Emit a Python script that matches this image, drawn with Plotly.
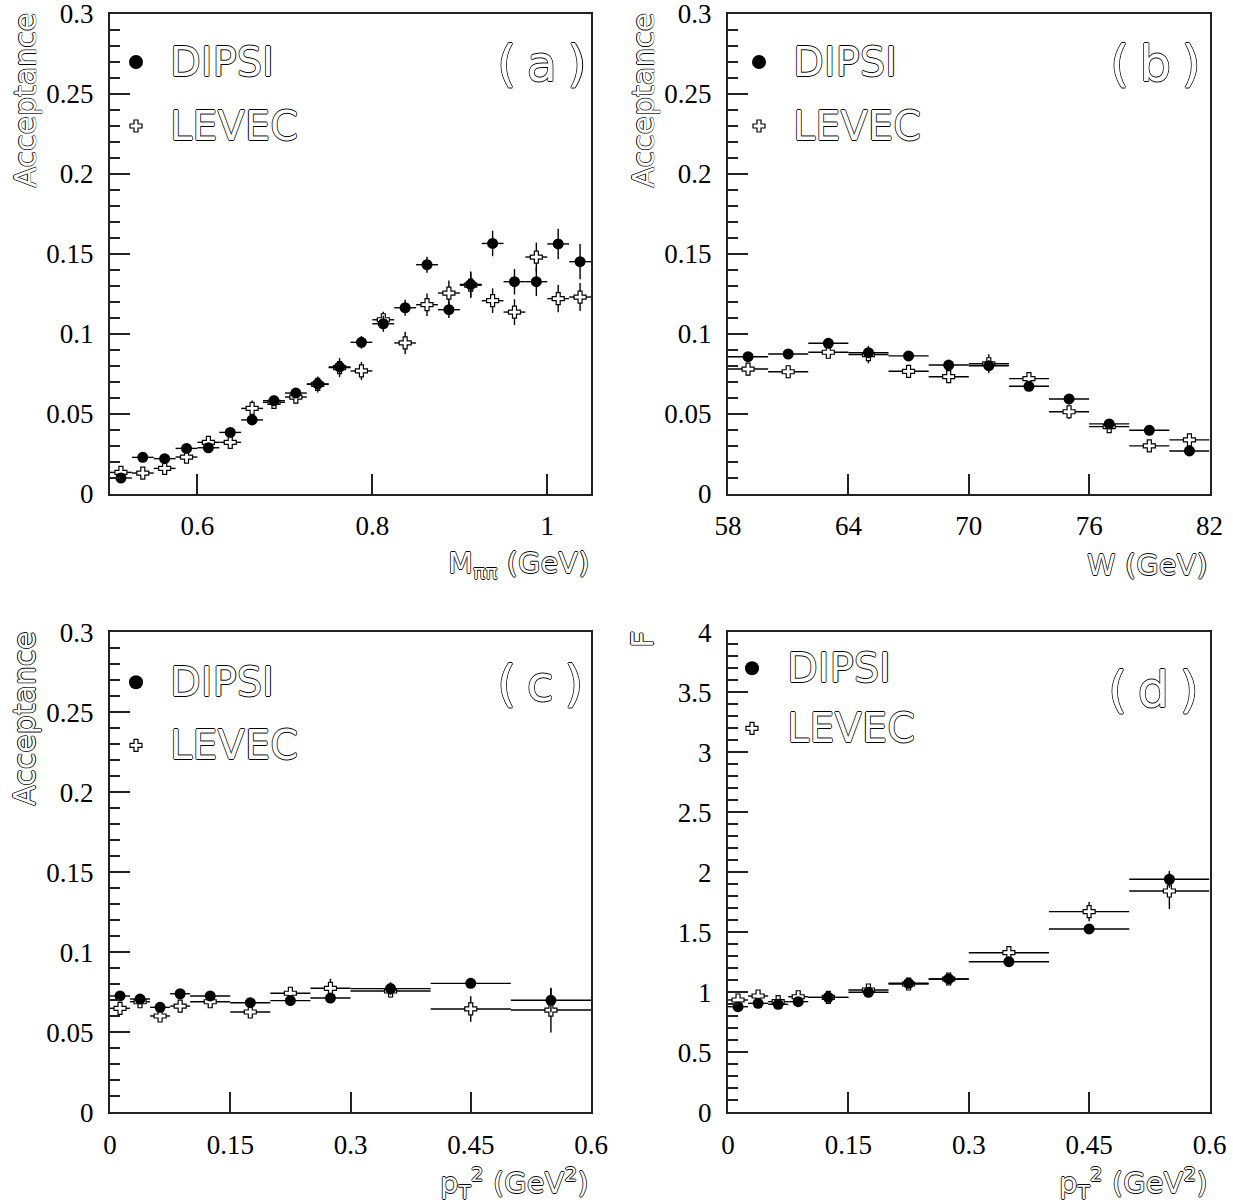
import plotly.graph_objects as go

# ---------------- data ----------------
m_centers = [0.5125, 0.5375, 0.5625, 0.5875, 0.6125, 0.6375, 0.6625, 0.6875, 0.7125, 0.7375, 0.7625,
             0.7875, 0.8125, 0.8375, 0.8625, 0.8875, 0.9125, 0.9375, 0.9625, 0.9875, 1.0125, 1.0375]
m_halfwidth = [0.0125] * 22
dipsi_a = [0.0100, 0.0229, 0.0221, 0.0285, 0.0289, 0.0385, 0.0463, 0.0583, 0.0631, 0.0688, 0.0794,
           0.0948, 0.1064, 0.1164, 0.1433, 0.1152, 0.1310, 0.1566, 0.1327, 0.1327, 0.1563, 0.1452]
dipsi_a_err = [0.001, 0.0015, 0.0015, 0.002, 0.002, 0.002, 0.0025, 0.003, 0.003, 0.004, 0.004,
               0.004, 0.005, 0.005, 0.005, 0.0052, 0.008, 0.008, 0.008, 0.009, 0.0095, 0.011]
levec_a = [0.0135, 0.0131, 0.0160, 0.0231, 0.0323, 0.0323, 0.0535, 0.0573, 0.0606, 0.0685, 0.0790,
           0.0769, 0.1089, 0.0944, 0.1183, 0.1256, 0.1305, 0.1208, 0.1137, 0.1481, 0.1221, 0.1231]
levec_a_err = [0.0015, 0.003, 0.0035, 0.003, 0.004, 0.004, 0.005, 0.004, 0.004, 0.005, 0.006,
               0.0056, 0.005, 0.007, 0.007, 0.0078, 0.008, 0.0077, 0.008, 0.009, 0.0085, 0.0088]

w_centers = [59, 61, 63, 65, 67, 69, 71, 73, 75, 77, 79, 81]
w_halfwidth = [1] * 12
dipsi_b = [0.0858, 0.0875, 0.0942, 0.0883, 0.0863, 0.0806, 0.0802, 0.0673, 0.0594, 0.0438, 0.0398, 0.0269]
dipsi_b_err = [0.002, 0.002, 0.002, 0.002, 0.002, 0.002, 0.002, 0.002, 0.002, 0.002, 0.002, 0.002]
levec_b = [0.0781, 0.0764, 0.0886, 0.0871, 0.0767, 0.0733, 0.0814, 0.0721, 0.0514, 0.0421, 0.0301, 0.0338]
levec_b_err = [0.004, 0.004, 0.004, 0.0055, 0.004, 0.004, 0.006, 0.004, 0.0045, 0.004, 0.003, 0.003]

pt_centers = [0.0125, 0.0375, 0.0625, 0.0875, 0.125, 0.175, 0.225, 0.275, 0.35, 0.45, 0.55]
pt_halfwidth = [0.0125, 0.0125, 0.0125, 0.0125, 0.025, 0.025, 0.025, 0.025, 0.05, 0.05, 0.05]
dipsi_c = [0.0727, 0.0708, 0.0656, 0.0741, 0.0727, 0.0685, 0.0698, 0.0714, 0.0773, 0.0806, 0.0700]
dipsi_c_err = [0.003, 0.003, 0.003, 0.003, 0.002, 0.002, 0.002, 0.002, 0.004, 0.002, 0.0075]
levec_c = [0.0650, 0.0691, 0.0602, 0.0664, 0.0691, 0.0627, 0.0744, 0.0775, 0.0758, 0.0646, 0.0639]
levec_c_err = [0.003, 0.003, 0.003, 0.004, 0.002, 0.002, 0.004, 0.006, 0.004, 0.008, 0.014]

dipsi_d = [0.880, 0.908, 0.900, 0.922, 0.958, 1.000, 1.075, 1.111, 1.255, 1.528, 1.942]
dipsi_d_err = [0.02, 0.02, 0.02, 0.02, 0.02, 0.02, 0.03, 0.02, 0.02, 0.02, 0.07]
levec_d = [0.936, 0.969, 0.922, 0.963, 0.958, 1.019, 1.069, 1.111, 1.330, 1.672, 1.844]
levec_d_err = [0.04, 0.03, 0.04, 0.03, 0.02, 0.03, 0.03, 0.02, 0.03, 0.08, 0.15]

# tick labels
acc_ticks = [0, 0.05, 0.1, 0.15, 0.2, 0.25, 0.3]
acc_ticktext = ["0", "0.05", "0.1", "0.15", "0.2", "0.25", "0.3"]
f_ticks = [0, 0.5, 1, 1.5, 2, 2.5, 3, 3.5, 4]
f_ticktext = ["0", "0.5", "1", "1.5", "2", "2.5", "3", "3.5", "4"]
m_ticks = [0.6, 0.8, 1.0]
m_ticktext = ["0.6", "0.8", "1"]
w_ticks = [58, 64, 70, 76, 82]
w_ticktext = ["58", "64", "70", "76", "82"]
pt_ticks = [0, 0.15, 0.3, 0.45, 0.6]
pt_ticktext = ["0", "0.15", "0.3", "0.45", "0.6"]

panel_labels = ["(\u2009a\u2009)", "(\u2009b\u2009)", "(\u2009c\u2009)", "(\u2009d\u2009)"]
series_names = ["DIPSI", "LEVEC"]
x_titles = ["M<sub>\u03c0\u03c0</sub> (GeV)", "W (GeV)",
            "p<sub>T</sub><sup>2</sup> (GeV<sup>2</sup>)", "p<sub>T</sub><sup>2</sup> (GeV<sup>2</sup>)"]
y_titles = ["Acceptance", "Acceptance", "Acceptance", "F"]

# ---------------- style ----------------
W, H = 1233, 1204
def fx(X):
    return X / W
def fy(Y):
    return 1 - Y / H

AXC = "#222222"
TICKFONT = dict(family="Liberation Serif, Times New Roman, Times, serif", size=27, color="black")
OUTLINE = "0.8px 0px 0px #000, -0.8px 0px 0px #000, 0px 0.8px 0px #000, 0px -0.8px 0px #000"
HFONT = lambda s: dict(family="DejaVu Sans", size=s, color="white", shadow=OUTLINE)

# panel frames in page px: (left, right, top, bottom)
frames = [(110, 591, 14, 494), (728, 1209.5, 14, 494), (110, 591, 632.3, 1112.3), (728, 1209.5, 632.3, 1112.3)]

panels = [
    dict(x=m_centers, xe=m_halfwidth, d=dipsi_a, de=dipsi_a_err, l=levec_a, le=levec_a_err,
         xr=[0.5, 1.05], xtv=m_ticks, xtt=m_ticktext, yr=[0, 0.3], ytv=acc_ticks, ytt=acc_ticktext, ymin=0.01),
    dict(x=w_centers, xe=w_halfwidth, d=dipsi_b, de=dipsi_b_err, l=levec_b, le=levec_b_err,
         xr=[58, 82], xtv=w_ticks, xtt=w_ticktext, yr=[0, 0.3], ytv=acc_ticks, ytt=acc_ticktext, ymin=0.01),
    dict(x=pt_centers, xe=pt_halfwidth, d=dipsi_c, de=dipsi_c_err, l=levec_c, le=levec_c_err,
         xr=[0, 0.6], xtv=pt_ticks, xtt=pt_ticktext, yr=[0, 0.3], ytv=acc_ticks, ytt=acc_ticktext, ymin=0.01),
    dict(x=pt_centers, xe=pt_halfwidth, d=dipsi_d, de=dipsi_d_err, l=levec_d, le=levec_d_err,
         xr=[0, 0.6], xtv=pt_ticks, xtt=pt_ticktext, yr=[0, 4], ytv=f_ticks, ytt=f_ticktext, ymin=0.1),
]

# legend / label positions in px (relative to panel left / top)
leg_pos = [
    dict(mx=26, tx=58, y1=48, y2=112),
    dict(mx=31, tx=63, y1=48, y2=112),
    dict(mx=26, tx=58, y1=50, y2=113),
    dict(mx=24, tx=57, y1=36, y2=96),
]
lab_pos = [(542, 64), (1155, 64), (540, 684), (1153, 690)]

fig = go.Figure()
layout = dict(width=W, height=H, margin=dict(l=0, r=0, t=0, b=0, pad=0, autoexpand=False), autosize=False,
              paper_bgcolor="white", plot_bgcolor="white", showlegend=False)
annotations = []
shapes = []

for i, p in enumerate(panels):
    k = "" if i == 0 else str(i + 1)
    left, right, top, bottom = frames[i]
    ek = dict(type="data", color="black", thickness=1.4, width=0)
    fig.add_trace(go.Scatter(
        x=p["x"], y=p["l"], mode="markers", name=series_names[1], xaxis="x" + k, yaxis="y" + k,
        marker=dict(symbol="cross", size=10, color="white", line=dict(color="black", width=1.2)),
        error_x=dict(array=p["xe"], **ek), error_y=dict(array=p["le"], **ek)))
    fig.add_trace(go.Scatter(
        x=p["x"], y=p["d"], mode="markers", name=series_names[0], xaxis="x" + k, yaxis="y" + k,
        marker=dict(symbol="circle", size=11, color="black", line=dict(width=0)),
        error_x=dict(array=p["xe"], **ek), error_y=dict(array=p["de"], **ek)))

    layout["xaxis" + k] = dict(
        domain=[fx(left), fx(right)], anchor="y" + k, range=p["xr"], automargin=False,
        tickmode="array", tickvals=p["xtv"], ticktext=p["xtt"], ticklabeloverflow="allow",
        showgrid=False, zeroline=False, showline=True, mirror=True, linecolor=AXC, linewidth=2,
        ticks="inside", ticklen=20, tickwidth=1.5, tickcolor=AXC, tickfont=TICKFONT,
        ticklabelstandoff=7)
    layout["yaxis" + k] = dict(
        domain=[fy(bottom), fy(top)], anchor="x" + k, range=p["yr"], automargin=False,
        tickmode="array", tickvals=p["ytv"], ticktext=p["ytt"], ticklabeloverflow="allow",
        showgrid=False, zeroline=False, showline=True, mirror=True, linecolor=AXC, linewidth=2,
        ticks="inside", ticklen=20, tickwidth=1.5, tickcolor=AXC, tickfont=TICKFONT,
        ticklabelstandoff=9,
        minor=dict(ticks="inside", ticklen=10, tickwidth=1.5, tickcolor=AXC, tick0=0, dtick=p["ymin"],
                   showgrid=False))

    lp = leg_pos[i]
    cx = fx(left + lp["mx"])
    cy1 = fy(top + lp["y1"])
    cy2 = fy(top + lp["y2"])
    shapes.append(dict(type="circle", xref="paper", yref="paper", xsizemode="pixel", ysizemode="pixel",
                       xanchor=cx, yanchor=cy1, x0=-7, x1=7, y0=-7, y1=7,
                       fillcolor="black", line=dict(width=0)))
    shapes.append(dict(type="path", xref="paper", yref="paper", xsizemode="pixel", ysizemode="pixel",
                       xanchor=cx, yanchor=cy2,
                       path="M-2,-6 L2,-6 L2,-2 L6,-2 L6,2 L2,2 L2,6 L-2,6 L-2,2 L-6,2 L-6,-2 L-2,-2 Z",
                       fillcolor="white", line=dict(color="black", width=1.2)))
    tx = fx(left + lp["tx"])
    annotations.append(dict(text=series_names[0], x=tx, y=cy1, xref="paper", yref="paper",
                            xanchor="left", yanchor="middle", showarrow=False, font=HFONT(40)))
    annotations.append(dict(text=series_names[1], x=tx, y=cy2, xref="paper", yref="paper",
                            xanchor="left", yanchor="middle", showarrow=False, font=HFONT(40)))
    lx, ly = lab_pos[i]
    annotations.append(dict(text=panel_labels[i], x=fx(lx), y=fy(ly), xref="paper", yref="paper",
                            xanchor="center", yanchor="middle", showarrow=False, font=HFONT(50)))
    annotations.append(dict(text=x_titles[i], x=fx(right), y=fy(bottom + 71), xref="paper",
                            yref="paper", xanchor="right", yanchor="middle", showarrow=False,
                            font=HFONT(29)))
    annotations.append(dict(text=y_titles[i], x=fx(left - 85), y=fy(top - 3), xref="paper",
                            yref="paper", xanchor="center", yanchor="top", textangle=-90,
                            showarrow=False, font=HFONT(30)))

layout["annotations"] = annotations
layout["shapes"] = shapes
fig.update_layout(**layout)
# remove the default 8px page margin so the figure sits at the page origin
fig.write_html("out.html", config={"displayModeBar": False},
               post_script="document.body.style.margin='0px';")
